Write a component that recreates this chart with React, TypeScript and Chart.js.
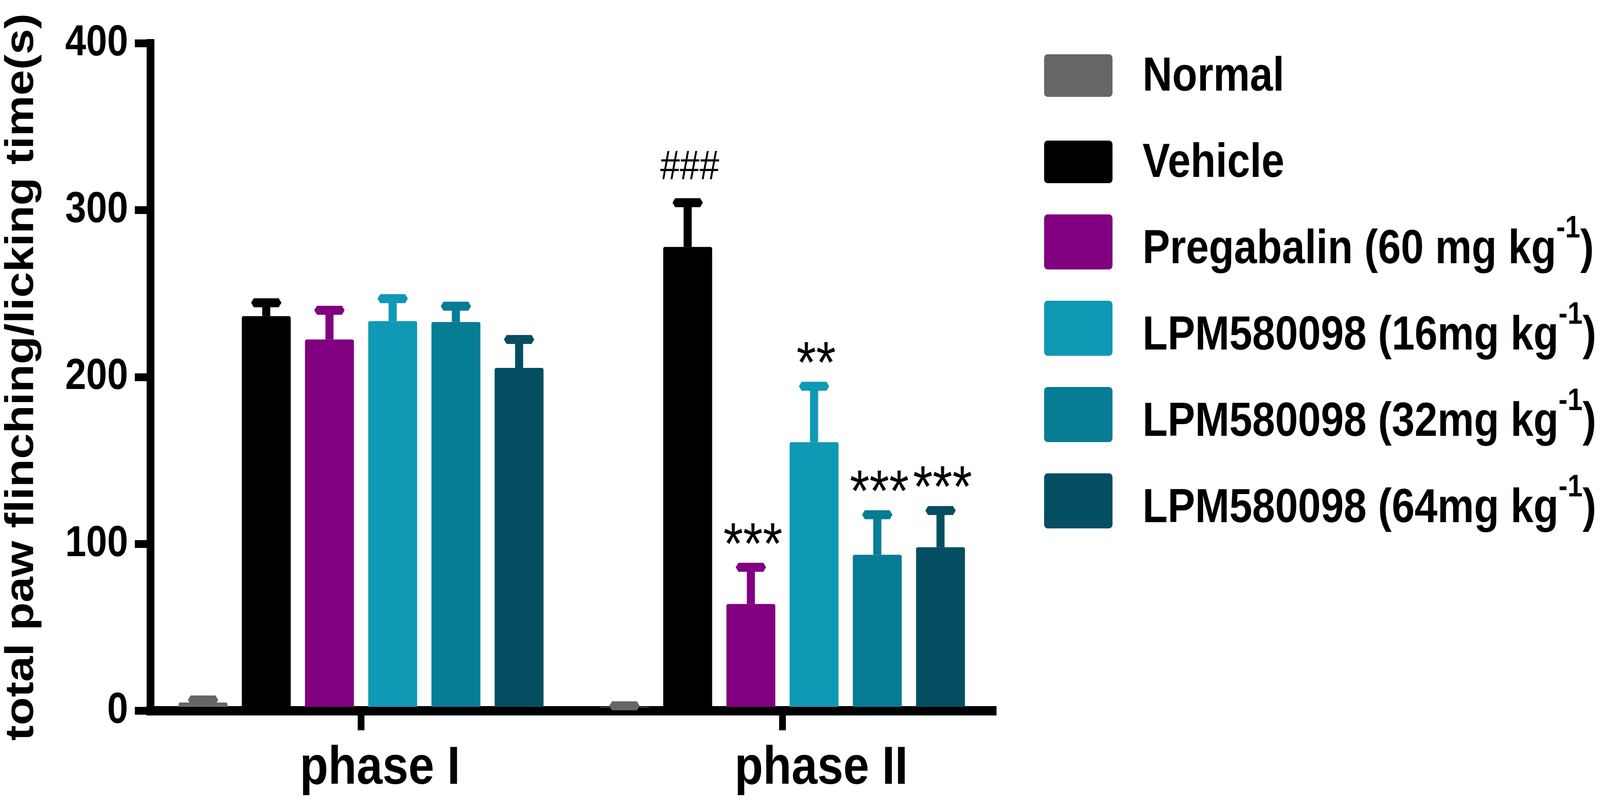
import { useEffect, useRef } from "react";
import { Chart, registerables } from "chart.js";

Chart.register(...registerables);

const FONT = '"Liberation Sans", Arial, Helvetica, sans-serif';
const DESIGN_W = 4746;
const DESIGN_H = 2051;

const categories = ["phase I", "phase II"];
const seriesNames = [
  "Normal",
  "Vehicle",
  "Pregabalin (60 mg kg^-1)",
  "LPM580098 (16mg kg^-1)",
  "LPM580098 (32mg kg^-1)",
  "LPM580098 (64mg kg^-1)",
];
const seriesColors = ["#666666", "#000000", "#800080", "#0F99B4", "#077C95", "#044E62"];

const normalValues = [5, 2];
const vehicleValues = [236.5, 278];
const pregabalinValues = [222.5, 64];
const lpm16Values = [233.5, 161];
const lpm32Values = [233, 93.5];
const lpm64Values = [205.5, 98];

const normalErrors = [1.5, 1];
const vehicleErrors = [8, 26.5];
const pregabalinErrors = [17.5, 22];
const lpm16Errors = [13.5, 33.5];
const lpm32Errors = [9.5, 24];
const lpm64Errors = [17, 22];

const normalMarks = ["", ""];
const vehicleMarks = ["", "###"];
const pregabalinMarks = ["", "***"];
const lpm16Marks = ["", "**"];
const lpm32Marks = ["", "***"];
const lpm64Marks = ["", "***"];

const yTickValues = [0, 100, 200, 300, 400];
const yTitle = "total paw flinching/licking time(s)";

// layout only: horizontal shift of each category label from its tick
const categoryLabelShift = [56, 115];

const seriesValues = [normalValues, vehicleValues, pregabalinValues, lpm16Values, lpm32Values, lpm64Values];
const seriesErrors = [normalErrors, vehicleErrors, pregabalinErrors, lpm16Errors, lpm32Errors, lpm64Errors];
const seriesMarks = [normalMarks, vehicleMarks, pregabalinMarks, lpm16Marks, lpm32Marks, lpm64Marks];

export default function App() {
  const ref = useRef<HTMLCanvasElement>(null);

  useEffect(() => {
    document.documentElement.style.margin = "0";
    document.documentElement.style.overflow = "hidden";
    document.body.style.margin = "0";
    document.body.style.overflow = "hidden";
    const canvas = ref.current;
    if (!canvas) return;

    const errorPlugin = {
      id: "errorBars",
      afterDatasetsDraw(chart: any) {
        const ctx = chart.ctx;
        const y = chart.scales.y;
        chart.data.datasets.forEach((_ds: any, di: number) => {
          const meta = chart.getDatasetMeta(di);
          meta.data.forEach((bar: any, j: number) => {
            const top = y.getPixelForValue(seriesValues[di][j] + seriesErrors[di][j]);
            const x = bar.x;
            ctx.save();
            ctx.fillStyle = seriesColors[di];
            ctx.fillRect(x - 12, top, 24, bar.y - top);
            ctx.beginPath();
            ctx.moveTo(x - 45, top);
            ctx.lineTo(x - 37, top - 11.5);
            ctx.lineTo(x + 37, top - 11.5);
            ctx.lineTo(x + 45, top);
            ctx.lineTo(x + 37, top + 11.5);
            ctx.lineTo(x - 37, top + 11.5);
            ctx.closePath();
            ctx.fill();
            ctx.restore();
          });
        });
      },
    };

    const marksPlugin = {
      id: "sigMarks",
      afterDatasetsDraw(chart: any) {
        const ctx = chart.ctx;
        const y = chart.scales.y;
        chart.data.datasets.forEach((_ds: any, di: number) => {
          const meta = chart.getDatasetMeta(di);
          meta.data.forEach((bar: any, j: number) => {
            const text = seriesMarks[di][j];
            if (!text) return;
            const capCenter = y.getPixelForValue(seriesValues[di][j] + seriesErrors[di][j]);
            ctx.save();
            ctx.font = text.startsWith("#") ? `105px ${FONT}` : `150px ${FONT}`;
            ctx.fillStyle = "#000";
            ctx.textAlign = "center";
            ctx.textBaseline = "alphabetic";
            const m = ctx.measureText(text);
            const bottom = capCenter - 60;
            const baseline = bottom - m.actualBoundingBoxDescent;
            ctx.fillText(text, bar.x + 6, baseline);
            ctx.restore();
          });
        });
      },
    };

    const categoryLabelPlugin = {
      id: "categoryLabels",
      afterDraw(chart: any) {
        const ctx = chart.ctx;
        const x = chart.scales.x;
        ctx.save();
        ctx.font = `bold 138px ${FONT}`;
        ctx.fillStyle = "#000";
        ctx.textAlign = "center";
        ctx.textBaseline = "alphabetic";
        categories.forEach((label, i) => {
          ctx.fillText(label, x.getPixelForTick(i) + categoryLabelShift[i], chart.chartArea.bottom + 187);
        });
        ctx.restore();
      },
    };

    const legendPlugin = {
      id: "customLegend",
      afterDraw(chart: any) {
        const ctx = chart.ctx;
        const boxX = 3097;
        const boxW = 203;
        const textX = 3389;
        const firstBaseline = 232;
        const step = 221;
        seriesNames.forEach((name, i) => {
          const parts = name.split(/\^(-?\d+)/);
          const hasSup = parts.length > 1;
          const base = firstBaseline + i * step;
          const top = base - (hasSup ? 125 : 93);
          const bottom = base + 16;
          ctx.save();
          ctx.fillStyle = seriesColors[i];
          ctx.beginPath();
          if (ctx.roundRect) ctx.roundRect(boxX, top, boxW, bottom - top, 10);
          else ctx.rect(boxX, top, boxW, bottom - top);
          ctx.fill();
          ctx.fillStyle = "#000";
          ctx.textAlign = "left";
          ctx.textBaseline = "alphabetic";
          let x = textX;
          parts.forEach((p, k) => {
            if (!p) return;
            if (k % 2 === 1) {
              ctx.font = `bold 80px ${FONT}`;
              ctx.fillText(p, x, base - 66);
            } else {
              ctx.font = `bold 122px ${FONT}`;
              ctx.fillText(p, x, base);
            }
            x += ctx.measureText(p).width;
          });
          ctx.restore();
        });
      },
    };

    const chart = new Chart(canvas, {
      type: "bar",
      data: {
        labels: categories,
        datasets: seriesNames.map((name, i) => ({
          label: name,
          data: seriesValues[i],
          backgroundColor: seriesColors[i],
          borderWidth: 0,
          borderRadius: 5,
          barPercentage: 0.774,
          categoryPercentage: 0.9,
        })),
      },
      options: {
        animation: false,
        responsive: false,
        devicePixelRatio: 1,
        layout: { padding: { left: 0, top: 111, right: 1800, bottom: 0 } },
        plugins: {
          legend: { display: false },
          tooltip: { enabled: false },
        },
        scales: {
          x: {
            type: "category",
            offset: true,
            z: 1,
            grid: {
              display: true,
              drawOnChartArea: false,
              drawTicks: true,
              tickLength: 50,
              lineWidth: 20,
              color: "#000",
              offset: false,
            },
            border: { display: true, width: 24, color: "#000" },
            ticks: { display: false, autoSkip: false },
            afterFit: (s: any) => {
              s.height = 231;
            },
          },
          y: {
            min: 0,
            max: 400,
            z: 1,
            afterBuildTicks: (s: any) => {
              s.ticks = yTickValues.map((v) => ({ value: v }));
            },
            ticks: {
              font: { size: 112, weight: "bold", family: FONT },
              color: "#000",
              padding: 20,
            },
            grid: {
              display: true,
              drawOnChartArea: false,
              drawTicks: true,
              tickLength: 46,
              lineWidth: 20,
              color: "#000",
            },
            border: { display: true, width: 23, color: "#000" },
            title: {
              display: true,
              text: yTitle,
              color: "#000",
              font: { size: 118, weight: "bold", family: FONT },
              padding: { top: -5, bottom: 0 },
            },
            afterFit: (s: any) => {
              s.width = 446;
            },
          },
        },
      },
      plugins: [errorPlugin, marksPlugin, categoryLabelPlugin, legendPlugin],
    } as any);

    // The drawing is made on a 4746x2051 canvas and shown filling the whole viewport.
    canvas.style.width = `${window.innerWidth}px`;
    canvas.style.height = `${window.innerHeight}px`;

    return () => chart.destroy();
  }, []);

  return (
    <div>
      <canvas ref={ref} width={DESIGN_W} height={DESIGN_H} style={{ display: "block" }} />
    </div>
  );
}
